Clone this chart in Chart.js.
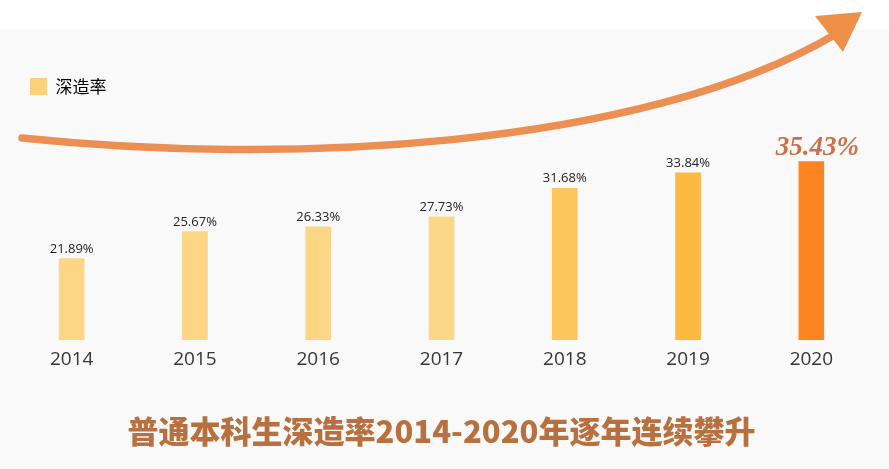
<!DOCTYPE html>
<html>
<head>
<meta charset="utf-8">
<script src="https://cdn.jsdelivr.net/npm/chart.js@4"></script>
<style>
  html, body { margin: 0; padding: 0; background: #f9f9f9; }
  #wrap { width: 889px; height: 469px; }
</style>
</head>
<body>
<div id="wrap"><canvas id="rate-chart" width="889" height="469"></canvas></div>
<script>
var years = ['2014', '2015', '2016', '2017', '2018', '2019', '2020'];
var rates = [21.89, 25.67, 26.33, 27.73, 31.68, 33.84, 35.43];
var barColors = ['#fdd685', '#fdd685', '#fdd685', '#fdd788', '#fcc55e', '#fdb840', '#fb8420'];

// page background + the big rising arrow
var backdrop = {
  id: 'backdrop',
  beforeDraw: function (chart) {
    var c = chart.ctx;
    c.save();
    c.fillStyle = '#f9f9f9';
    c.fillRect(0, 0, chart.width, chart.height);
    c.fillStyle = '#ffffff';
    c.fillRect(0, 0, chart.width, 30);
    c.restore();
  },
  afterDraw: function (chart) {
    var c = chart.ctx;
    c.save();
    c.strokeStyle = '#ec8f52';
    c.lineWidth = 7.5;
    c.lineCap = 'round';
    c.beginPath();
    c.moveTo(22, 138);
    c.bezierCurveTo(280, 165, 640, 150, 836, 34);
    c.stroke();
    c.fillStyle = '#ef9049';
    c.beginPath();
    c.moveTo(815, 16);
    c.lineTo(862, 12);
    c.lineTo(843, 52);
    c.closePath();
    c.fill();
    c.restore();
  }
};

// value labels above the bars
var valueLabels = {
  id: 'valueLabels',
  afterDatasetsDraw: function (chart) {
    var c = chart.ctx;
    var meta = chart.getDatasetMeta(0);
    c.save();
    c.textAlign = 'center';
    c.textBaseline = 'alphabetic';
    meta.data.forEach(function (bar, i) {
      var txt = rates[i].toFixed(2) + '%';
      if (i === rates.length - 1) {
        c.font = 'italic bold 27px "Liberation Serif"';
        c.fillStyle = '#c8714b';
        c.fillText(txt, bar.x + 6, bar.y - 6);
      } else {
        c.font = '13px "Open Sans"';
        c.fillStyle = '#222222';
        c.fillText(txt, bar.x, bar.y - 6);
      }
    });
    c.restore();
  }
};

var ctx = document.getElementById('rate-chart').getContext('2d');
var rate_chart = new Chart(ctx, {
  type: 'bar',
  data: {
    labels: years,
    datasets: [{
      label: '深造率',
      data: rates,
      backgroundColor: barColors,
      borderWidth: 0,
      barThickness: 25
    }]
  },
  options: {
    responsive: false,
    animation: false,
    layout: { padding: { left: 10, right: 16, top: 58, bottom: 0 } },
    scales: {
      x: {
        grid: { display: false, drawTicks: false },
        border: { display: false },
        ticks: { color: '#363636', padding: 8, font: { family: 'Open Sans', size: 19 } }
      },
      y: {
        display: false,
        min: 10.56,
        max: 43.3
      }
    },
    plugins: {
      legend: {
        position: 'top',
        align: 'start',
        labels: {
          boxWidth: 17,
          boxHeight: 17,
          padding: 20,
          color: '#4a3f38',
          font: { family: 'Noto Sans CJK SC', size: 17 },
          generateLabels: function () {
            return [{ text: '深造率', fillStyle: '#fdd07a', strokeStyle: '#fdd07a', lineWidth: 0 }];
          }
        }
      },
      title: {
        display: true,
        position: 'bottom',
        text: '普通本科生深造率2014-2020年逐年连续攀升',
        color: '#b9703f',
        font: { family: 'Noto Sans CJK SC', size: 31, weight: '900' },
        padding: { top: 34, bottom: 19 }
      },
      tooltip: { enabled: false }
    }
  },
  plugins: [backdrop, valueLabels]
});
</script>
</body>
</html>
